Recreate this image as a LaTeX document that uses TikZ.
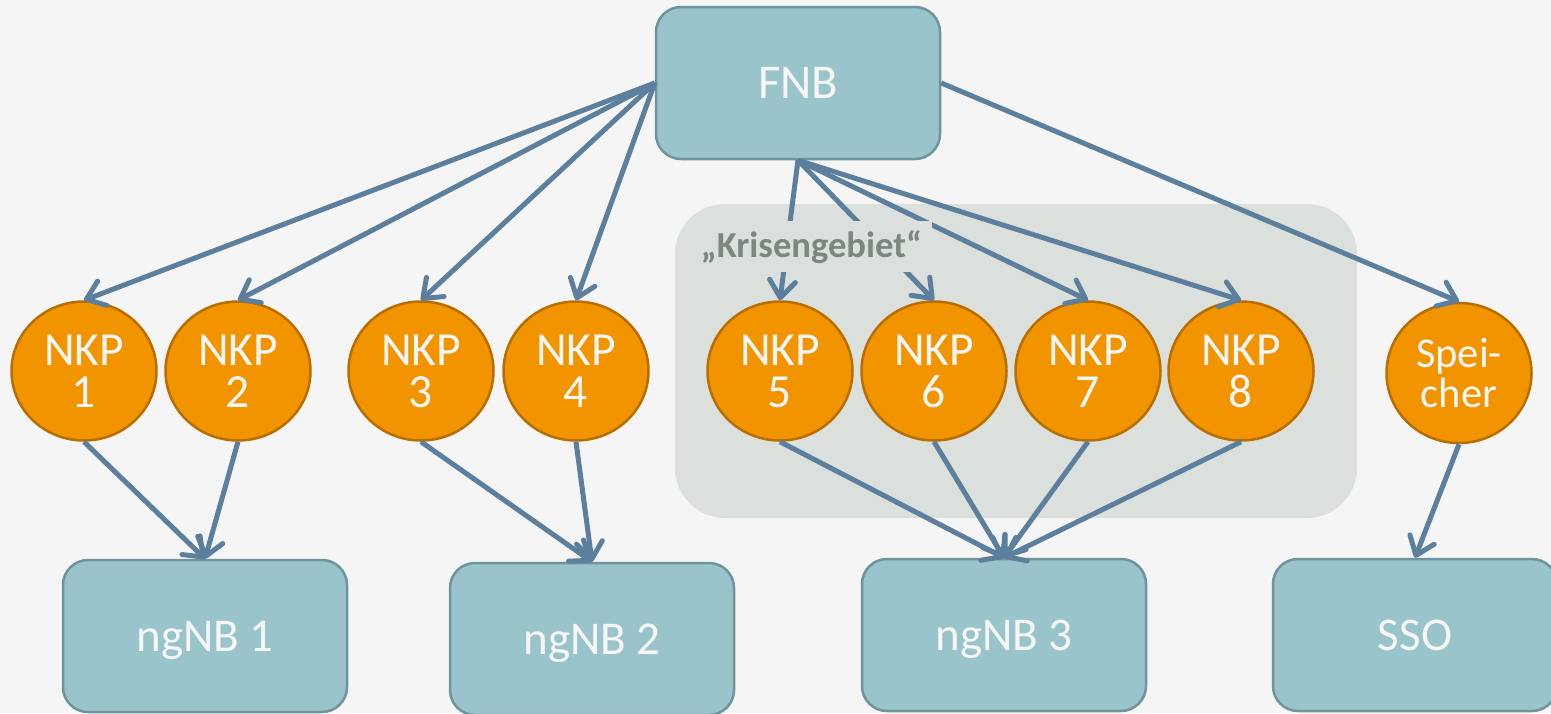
\documentclass[tikz,border=0pt]{standalone}
\usepackage{fontspec}
\setmainfont{Carlito}
\usetikzlibrary{shapes.geometric,arrows.meta}
\definecolor{bg}{RGB}{245,245,245}
\definecolor{boxfill}{RGB}{154,196,203}
\definecolor{boxline}{RGB}{112,148,155}
\definecolor{orfill}{RGB}{242,148,0}
\definecolor{orline}{RGB}{184,110,0}
\definecolor{arr}{RGB}{91,127,157}
\definecolor{region}{RGB}{219,224,221}
\definecolor{lbl}{RGB}{122,136,125}
\definecolor{txt}{RGB}{246,246,246}
\begin{document}
\begin{tikzpicture}[x=1pt,y=-1pt,
 box/.style={draw=boxline,line width=2.5pt,fill=boxfill,rounded corners=25pt,minimum width=284pt,minimum height=152pt,inner sep=0pt,text=txt,text depth=0pt,font=\fontsize{47}{50}\selectfont},
 nkp/.style={ellipse,draw=orline,line width=2.5pt,fill=orfill,minimum width=145pt,minimum height=139pt,inner sep=0pt,text=txt,align=center,font=\fontsize{47.5}{42}\selectfont},
 link/.style={draw=arr,line width=5pt,-{Straight Barb[length=17pt,width=26pt,round]}},
 lab/.style={fill=region,inner xsep=10pt,inner ysep=9pt,text=lbl,font=\bfseries\fontsize{36.6}{40}\selectfont}
]
\fill[bg] (0,0) rectangle (1551,713);
\useasboundingbox (0,0) rectangle (1551,713);
\fill[region,rounded corners=50pt] (675,204) rectangle (1357,518);

\node[box,font=\fontsize{48.5}{50}\selectfont] (fnb) at (798,83) {FNB};

\node[nkp] (n1) at (84,371) {NKP\\1};
\node[nkp] (n2) at (238,371) {NKP\\2};
\node[nkp] (n3) at (421,371) {NKP\\3};
\node[nkp] (n4) at (576,371) {NKP\\4};
\node[nkp] (n5) at (780,371) {NKP\\5};
\node[nkp] (n6) at (934,371) {NKP\\6};
\node[nkp] (n7) at (1088,371) {NKP\\7};
\node[nkp] (n8) at (1241,371) {NKP\\8};
\node[nkp,minimum height=140pt,font=\fontsize{42.5}{40}\selectfont] (sp) at (1459,373) {Spei-\\cher};

\node[box] (b1) at (205,636) {ngNB 1};
\node[box] (b2) at (592,639) {ngNB 2};
\node[box] (b3) at (1004,635) {ngNB 3};
\node[box] (sso) at (1415,635) {SSO};

\foreach \n in {n1,n2,n3,n4} \draw[link] (fnb.west) -- (\n.north);
\foreach \n in {n5,n6,n7,n8} \draw[link] (fnb.south) -- (\n.north);
\draw[link] (fnb.east) -- (sp.north);

\draw[link] (n1.south) -- (b1.north);
\draw[link] (n2.south) -- (b1.north);
\draw[link] (n3.south) -- (b2.north);
\draw[link] (n4.south) -- (b2.north);
\foreach \n in {n5,n6,n7,n8} \draw[link] (\n.south) -- (b3.north);
\draw[link] (sp.south) -- (sso.north);

\node[lab,anchor=base] (krise) at (811.5,257) {„Krisengebiet“};
\end{tikzpicture}
\end{document}
